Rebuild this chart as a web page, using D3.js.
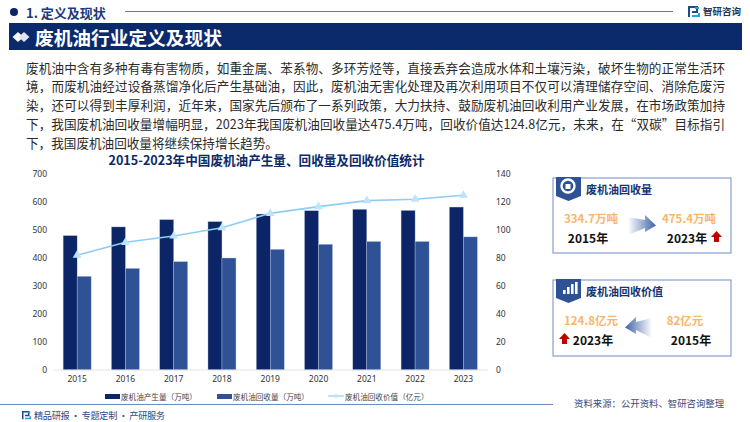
<!DOCTYPE html>
<html><head><meta charset="utf-8">
<script src="https://cdn.jsdelivr.net/npm/d3@7"></script>
<style>html,body{margin:0;padding:0;background:#fff}svg{display:block}text{font-family:"Noto Sans CJK SC","Noto Sans",sans-serif}</style>
</head><body><svg id="c" width="750" height="422"></svg>
<script>
const years=["2015","2016","2017","2018","2019","2020","2021","2022","2023"];
const generated=[480,511,537,530,557,569,574,570,582];
const recovered=[334.7,363,387,400,431,449,459,459,475.4];
const recoveryValue=[82,91.2,95.7,101.6,111.9,116.7,121,122,124.8];
const leftTicks=[0,100,200,300,400,500,600,700];
const rightTicks=[0,20,40,60,80,100,120,140];
const seriesNames=["废机油产生量（万吨）","废机油回收量（万吨）","废机油回收价值（亿元）"];
const bodyLines=[
"废机油中含有多种有毒有害物质，如重金属、苯系物、多环芳烃等，直接丢弃会造成水体和土壤污染，破坏生物的正常生活环",
"境，而废机油经过设备蒸馏净化后产生基础油，因此，废机油无害化处理及再次利用项目不仅可以清理储存空间、消除危废污",
"染，还可以得到丰厚利润，近年来，国家先后颁布了一系列政策，大力扶持、鼓励废机油回收利用产业发展，在市场政策加持",
"下，我国废机油回收量增幅明显，2023年我国废机油回收量达475.4万吨，回收价值达124.8亿元，未来，在“双碳”目标指引",
"下，我国废机油回收量将继续保持增长趋势。"];
const navy="#0b2566",mid="#2f5296",sky="#8fcdf5",tri="#bfe3fa",orange="#fbb56b",red="#c00000",frame="#6f8bc6";

const svg=d3.select("#c");
const T=(x,y,s,size,fill,weight,anchor)=>svg.append("text").attr("x",x).attr("y",y).text(s)
  .attr("font-size",size).attr("fill",fill).attr("font-weight",weight||400).attr("text-anchor",anchor||"start").attr("dominant-baseline","central");

// page header
svg.append("circle").attr("cx",14).attr("cy",12).attr("r",4).attr("fill",navy);
T(26,12,"1. 定义及现状",13,"#1c3a7c",700);
svg.append("line").attr("x1",125).attr("x2",673).attr("y1",11.5).attr("y2",11.5).attr("stroke","#5f7dbb");
T(703,11,"智研咨询",9.5,"#2a3550",700);
function logo(x,y,s){
  const g=svg.append("g").attr("transform",`translate(${x},${y}) scale(${s})`).attr("fill","none").attr("stroke-width",2);
  g.append("path").attr("d","M1 11V1H9V6H4").attr("stroke","#1f4a92");
  g.append("path").attr("d","M11 2H7M11 7V10H4").attr("stroke","#2aa0dc");
}
logo(688,6,1);logo(22,411,.75);

// title band
svg.append("rect").attr("x",9).attr("y",23).attr("width",733).attr("height",27).attr("fill","#0b2a6b");
[[18,"#fff"],[24,"#dfe4ee"]].forEach(([x,f])=>svg.append("path").attr("transform",`translate(${x},37)`).attr("d","M-5.5 0L0 -5L5.5 0L0 5Z").attr("fill",f));
T(35,36.5,"废机油行业定义及现状",18.7,"#fff",700);

// body text
bodyLines.forEach((l,i)=>{
  const t=T(26,67+i*18.85,l,12.6,"#2b2b2b");
  if(i<4)t.attr("textLength",699).attr("lengthAdjust","spacing");
});

// chart
T(266.5,159,"2015-2023年中国废机油产生量、回收量及回收价值统计",12.6,"#0c2a6a",700,"middle");
const x=d3.scaleBand().domain(years).range([53,487.5]);
const yL=d3.scaleLinear().domain([0,700]).range([370,174]);
const yR=d3.scaleLinear().domain([0,140]).range([370,174]);
const barW=14;
svg.append("g").selectAll("rect").data(years).join("rect")
  .attr("x",d=>x(d)+x.bandwidth()/2-barW).attr("width",barW)
  .attr("y",(d,i)=>yL(generated[i])).attr("height",(d,i)=>370-yL(generated[i])).attr("fill",navy)
  .attr("stroke","#b9c6e2").attr("stroke-width",.4);
svg.append("g").selectAll("rect").data(years).join("rect")
  .attr("x",d=>x(d)+x.bandwidth()/2).attr("width",barW)
  .attr("y",(d,i)=>yL(recovered[i])).attr("height",(d,i)=>370-yL(recovered[i])).attr("fill",mid)
  .attr("stroke","#b9c6e2").attr("stroke-width",.4);
const cx=d=>x(d)+x.bandwidth()/2;
svg.append("path").datum(years).attr("fill","none").attr("stroke",sky).attr("stroke-width",1.6)
  .attr("d",d3.line().x(cx).y((d,i)=>yR(recoveryValue[i])));
svg.append("g").selectAll("path").data(years).join("path")
  .attr("transform",(d,i)=>`translate(${cx(d)},${yR(recoveryValue[i])})`)
  .attr("d",d3.symbol(d3.symbolTriangle,34)).attr("fill",tri);
const style=g=>{g.select(".domain").remove();g.selectAll(".tick line").remove();
  g.selectAll("text").attr("font-size",8.5).attr("fill","#333").style("font-family",'"Noto Sans","Noto Sans CJK SC",sans-serif');};
svg.append("g").attr("transform","translate(47,0)").call(d3.axisLeft(yL).tickValues(leftTicks).tickSize(0).tickPadding(0)).call(style);
svg.append("g").attr("transform","translate(496,0)").call(d3.axisRight(yR).tickValues(rightTicks).tickSize(0).tickPadding(0)).call(style);
svg.append("g").attr("transform","translate(0,376)").call(d3.axisBottom(x).tickSize(0).tickPadding(0)).call(style);
svg.append("line").attr("x1",53).attr("x2",488).attr("y1",370).attr("y2",370).attr("stroke","#e4e4e4");

// legend
svg.append("rect").attr("x",105).attr("y",394).attr("width",15).attr("height",5).attr("fill",navy);
T(121,396,seriesNames[0],7.6,"#444");
svg.append("rect").attr("x",217).attr("y",394).attr("width",15).attr("height",5).attr("fill",mid);
T(233,396,seriesNames[1],7.6,"#444");
svg.append("line").attr("x1",328).attr("x2",344).attr("y1",396).attr("y2",396).attr("stroke",sky).attr("stroke-width",1.2);
svg.append("path").attr("transform","translate(336,396)").attr("d",d3.symbol(d3.symbolTriangle,10)).attr("fill",tri);
T(345,396,seriesNames[2],7.6,"#444");

// footer
svg.append("line").attr("x1",0).attr("x2",553).attr("y1",404.5).attr("y2",404.5).attr("stroke",frame);
T(34,415,"精品研报 · 专题定制 · 产研服务",9.2,"#2d4a8a").attr("textLength",131).attr("lengthAdjust","spacing");
T(574,403,"资料来源：公开资料、智研咨询整理",9.4,"#3a4a7a");

// side cards
const defs=svg.append("defs");
[["gr",0,1],["gl",1,0]].forEach(([id,a,b])=>{
  const g=defs.append("linearGradient").attr("id",id).attr("x1",a).attr("x2",b).attr("y1",0).attr("y2",0);
  g.append("stop").attr("offset",0).attr("stop-color","#fff");
  g.append("stop").attr("offset",1).attr("stop-color","#3f62a6");
});
function card(y,h,title){
  svg.append("rect").attr("x",553).attr("y",y).attr("width",178).attr("height",h).attr("fill","#fff").attr("stroke",frame);
  svg.append("path").attr("transform",`translate(556,${y-1})`).attr("d","M0 0H25V19L12.5 24L0 19Z").attr("fill","#2f5296");
  T(586,y+11,title,11,"#17356f",700);
}
function upArrow(x,y){svg.append("path").attr("transform",`translate(${x},${y})`).attr("d","M0 -6L5.5 0H2.5V5H-2.5V0H-5.5Z").attr("fill",red);}
card(178,75,"废机油回收量");
svg.append("circle").attr("cx",568).attr("cy",186).attr("r",6.5).attr("fill","none").attr("stroke","#fff").attr("stroke-width",2.4);
svg.append("rect").attr("x",565.5).attr("y",184).attr("width",5).attr("height",5).attr("fill","#fff");
T(591,217.5,"334.7万吨",11.5,orange,700,"middle");
T(588,237,"2015年",12,"#111",700,"middle");
svg.append("path").attr("d","M628 217L645 220V215L656 225.5L645 232V228L628 235Z").attr("fill","url(#gr)");
T(689,217.5,"475.4万吨",11.5,orange,700,"middle");
T(687,237,"2023年",12,"#111",700,"middle");
upArrow(716.5,237);

card(280,76,"废机油回收价值");
[[563,4],[567,7],[571,10],[575,12]].forEach(([bx,bh])=>svg.append("rect").attr("x",bx).attr("y",294-bh).attr("width",2.6).attr("height",bh).attr("fill","#fff"));
T(591,320,"124.8亿元",11.5,orange,700,"middle");
T(593,339,"2023年",12,"#111",700,"middle");
upArrow(564.5,339);
svg.append("path").attr("d","M652 318L636 322V317L625 327.5L636 334V330L652 338Z").attr("fill","url(#gl)");
T(685,320,"82亿元",11.5,orange,700,"middle");
T(691,339,"2015年",12,"#111",700,"middle");
</script></body></html>
